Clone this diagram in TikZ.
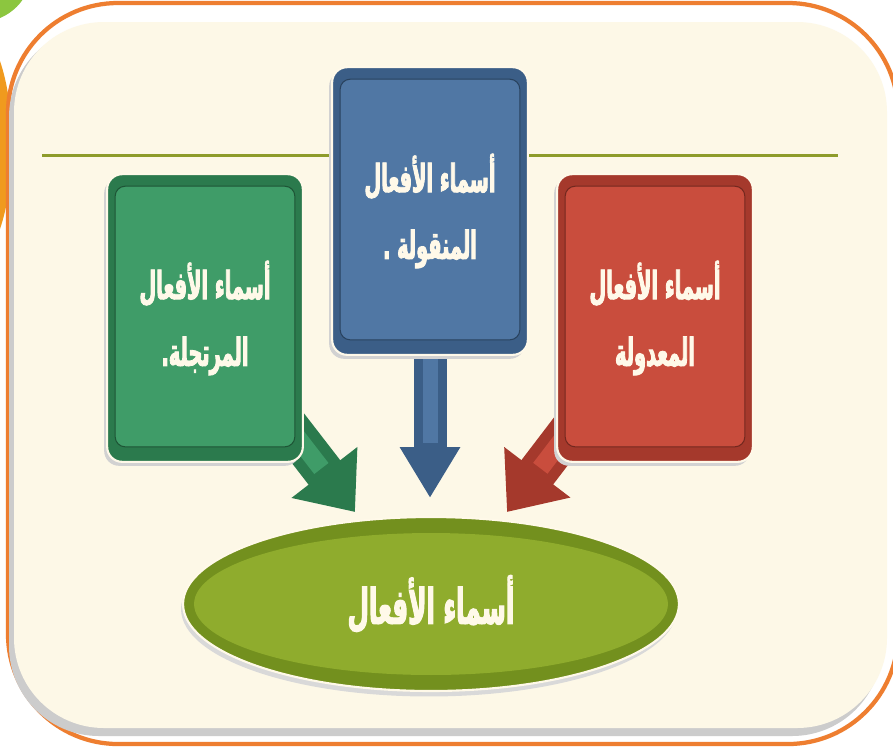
\documentclass[tikz,border=0pt]{standalone}
\usepackage{fontspec}
\usetikzlibrary{shapes.geometric,arrows.meta}
\newfontfamily\arabicfont[Script=Arabic, FakeStretch=0.5, FakeBold=2.2]{DejaVu Sans}
\TeXXeTstate=1
\definecolor{bgbeige}{HTML}{FDF8E7}
\definecolor{borderorange}{HTML}{EE7E30}
\definecolor{ballgreen}{HTML}{8CC63F}
\definecolor{ballorange}{HTML}{F09A1E}
\definecolor{ruleolive}{HTML}{8E9C2B}
\definecolor{txtcream}{HTML}{FFF9E9}
\definecolor{gmain}{HTML}{3F9C68}
\definecolor{gedge}{HTML}{2B7A4D}
\definecolor{bmain}{HTML}{5077A4}
\definecolor{bedge}{HTML}{3B5E87}
\definecolor{rmain}{HTML}{C94D3D}
\definecolor{redge}{HTML}{A5392C}
\definecolor{omain}{HTML}{8FAC2D}
\definecolor{oedge}{HTML}{73901E}
\pgfdeclarelayer{panel}
\pgfdeclarelayer{arrowlayer}
\pgfdeclarelayer{boxlayer}
\pgfsetlayers{panel,arrowlayer,boxlayer,main}
\tikzset{
  catbox/.style={rectangle, minimum width=3.9cm, minimum height=5.74cm, inner sep=0pt,
    text=txtcream, align=center, font=\arabicfont\bfseries\fontsize{22}{38}\selectfont},
  fatarrow/.style={line width=0.8cm, -{Triangle[width=1.6cm,length=1.0cm]}},
  slimarrow/.style={line width=0.66cm, -{Triangle[width=1.14cm,length=1.02cm]}},
}
\newcommand{\bevelbox}[3]{%
  \fill[gray!35, rounded corners=0.3cm] ([shift={(-3,4)}]#1.north west) rectangle ([shift={(-3,4)}]#1.south east);
  \draw[draw=txtcream, line width=1.2pt, fill=#2, rounded corners=0.3cm] (#1.north west) rectangle (#1.south east);
  \draw[fill=#3, draw=#2!70!black, line width=0.6pt, rounded corners=0.2cm] ([shift={(8,12)}]#1.north west) rectangle ([shift={(-8,-15)}]#1.south east);
}
\begin{document}
\begin{tikzpicture}[x=0.02cm,y=-0.02cm]
\useasboundingbox (0,0) rectangle (893,752);
\clip (0,0) rectangle (893,752);

% text nodes
\node[catbox] (blue) at (430,211) {\beginR أسماء الأفعال\endR\\\beginR المنقولة .\endR};
\node[catbox] (green) at (205,318) {\beginR أسماء الأفعال\endR\\\beginR المرتجلة.\endR};
\node[catbox] (red) at (655,318) {\beginR أسماء الأفعال\endR\\\beginR المعدولة\endR};
\node[ellipse, minimum width=9.92cm, minimum height=3.5cm, inner sep=0pt, text=txtcream,
  font=\arabicfont\bfseries\fontsize{28}{32}\selectfont] (ell) at (431,604) {\beginR أسماء الأفعال\endR};

\coordinate (btip) at (430,498);
\coordinate (gtip) at (355,512);
\coordinate (rtip) at (507,512);

\begin{pgfonlayer}{panel}
  \fill[white] (0,0) rectangle (893,752);
  \fill[ballgreen] (-20,-30) circle (1.04cm);
  \fill[ballorange] (-30,145) ellipse (0.84cm and 2.4cm);
  \fill[white, rounded corners=2.2cm] (8,3) rectangle (898,744);
  \draw[borderorange, line width=0.085cm, rounded corners=2.2cm] (8,3) rectangle (898,744);
  \fill[gray!40, rounded corners=1.8cm] (9,27) rectangle (882,736);
  \fill[bgbeige, rounded corners=1.8cm] (14,22) rectangle (887,728);
  \draw[ruleolive, line width=0.06cm] (42,155) -- (838,155);
\end{pgfonlayer}

\begin{pgfonlayer}{arrowlayer}
  \draw[slimarrow, bedge] (blue) -- (btip);
  \draw[line width=0.3cm, bmain] (blue.south) -- ([yshift=1.1cm]btip);
  \draw[fatarrow, gedge] (green.center) -- (gtip);
  \draw[line width=0.36cm, gmain, shorten >=1.1cm] (green.center) -- (gtip);
  \draw[fatarrow, redge] (red.center) -- (rtip);
  \draw[line width=0.36cm, rmain, shorten >=1.1cm] (red.center) -- (rtip);
\end{pgfonlayer}

\begin{pgfonlayer}{boxlayer}
  \bevelbox{blue}{bedge}{bmain}
  \bevelbox{green}{gedge}{gmain}
  \bevelbox{red}{redge}{rmain}
  \fill[gray!30] ([shift={(-2,5)}]ell.center) ellipse (4.96cm and 1.75cm);
  \draw[fill=oedge, draw=txtcream, line width=1.2pt] (ell.center) ellipse (4.96cm and 1.74cm);
  \fill[omain] (ell.center) ellipse (4.74cm and 1.42cm);
\end{pgfonlayer}
\end{tikzpicture}
\end{document}
